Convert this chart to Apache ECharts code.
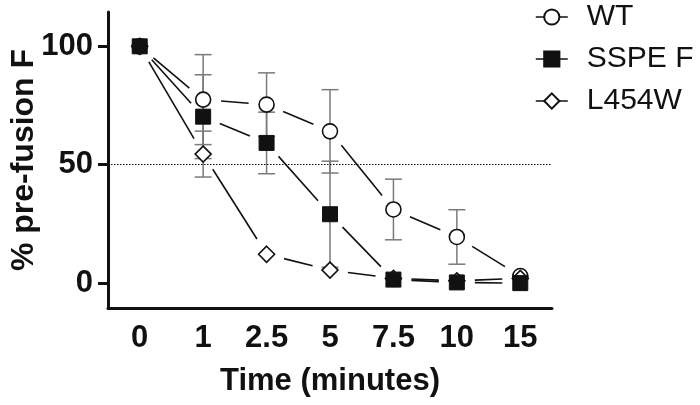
<!DOCTYPE html>
<html><head><meta charset="utf-8">
<script src="https://cdn.jsdelivr.net/npm/echarts@6/dist/echarts.min.js"></script>
<style>html,body{margin:0;padding:0;background:#fff}#c{width:700px;height:405px}</style>
</head><body><div id="c"></div>
<script>
const categories = ['0','1','2.5','5','7.5','10','15'];
const wtValues = [100, 77.5, 75.4, 64.1, 31.1, 19.5, 3];
const wtErrors = [0, 19, 13.4, 17.6, 12.8, 11.5, 0];
const ssValues = [100, 70.3, 59.2, 29.1, 1.5, 0.3, 0];
const ssErrors = [0, 17.7, 13, 22.4, 0, 0, 0];
const lwValues = [100, 54.5, 12.2, 5.5, 2, 1, 2];
const lwErrors = [0, 9.7, 0, 0, 0, 0, 0];
const yTicks = [0, 50, 100];
const refLine = 50;

const FONT = "'Liberation Sans', Arial, sans-serif";

function segData(vals){ return vals.slice(0,-1).map((v,i)=>[i, v, i+1, vals[i+1]]); }
function segRender(params, api){
  const p1 = api.coord([api.value(0), api.value(1)]);
  const p2 = api.coord([api.value(2), api.value(3)]);
  const dx = p2[0]-p1[0], dy = p2[1]-p1[1];
  const L = Math.hypot(dx, dy);
  const g = 18;
  if (L < 2*g + 2) return;
  const ux = dx/L, uy = dy/L;
  return {type:'line', shape:{x1:p1[0]+ux*g, y1:p1[1]+uy*g, x2:p2[0]-ux*g, y2:p2[1]-uy*g},
          style:{stroke:'#111', lineWidth:1.6}};
}
function errData(vals, errs){ return vals.map((v,i)=>[i, v, errs[i]]).filter(d=>d[2]>0); }
function errRender(params, api){
  const x = api.value(0), v = api.value(1), e = api.value(2);
  const t = api.coord([x, v+e]), b = api.coord([x, v-e]);
  const w = 8.5;
  const st = {stroke:'#7a7a7a', lineWidth:1.5};
  return {type:'group', children:[
    {type:'line', shape:{x1:t[0], y1:t[1], x2:b[0], y2:b[1]}, style:st},
    {type:'line', shape:{x1:t[0]-w, y1:t[1], x2:t[0]+w, y2:t[1]}, style:st},
    {type:'line', shape:{x1:b[0]-w, y1:b[1], x2:b[0]+w, y2:b[1]}, style:st}
  ]};
}
function segSeries(name, vals){
  return {type:'custom', name:name, data:segData(vals), renderItem:segRender, z:2, silent:true,
          encode:{x:0, y:1}};
}
function errSeries(name, vals, errs){
  return {type:'custom', name:name, data:errData(vals, errs), renderItem:errRender, z:1, silent:true,
          encode:{x:0, y:1}};
}

const chart = echarts.init(document.getElementById('c'));
chart.setOption({
  animation:false,
  backgroundColor:'#fff',
  grid:{left:108, right:148, top:12, bottom:97, containLabel:false, outerBoundsMode:'none'},
  legend:{
    orient:'vertical', left:535, top:2, padding:0,
    data:['WT','SSPE F','L454W'],
    itemWidth:32, itemHeight:19, itemGap:12,
    lineStyle:{color:'#111', width:1.6, opacity:1},
    textStyle:{fontFamily:FONT, fontSize:30, color:'#111', lineHeight:30, padding:[0,0,0,14]}
  },
  xAxis:{
    type:'category', data:categories, boundaryGap:true,
    axisLine:{onZero:false, lineStyle:{color:'#111', width:3}},
    axisTick:{alignWithLabel:true, length:10, lineStyle:{width:3, color:'#111'}},
    axisLabel:{fontFamily:FONT, fontSize:31, fontWeight:'bold', color:'#111', margin:15},
    name:'Time (minutes)', nameLocation:'middle', nameGap:58, nameMoveOverlap:false,
    nameTextStyle:{fontFamily:FONT, fontSize:31, fontWeight:'bold', color:'#111'}
  },
  yAxis:{
    type:'value', min:-10.5, max:114.5,
    splitLine:{show:false},
    axisLine:{show:true, onZero:false, lineStyle:{color:'#111', width:3}},
    axisTick:{show:true, length:10, customValues:yTicks, lineStyle:{width:3, color:'#111'}},
    axisLabel:{customValues:yTicks, fontFamily:FONT, fontSize:31, fontWeight:'bold', color:'#111', margin:15},
    name:'% pre-fusion F', nameLocation:'middle', nameGap:68, nameRotate:90, nameMoveOverlap:false,
    nameTextStyle:{fontFamily:FONT, fontSize:32, fontWeight:'bold', color:'#111'}
  },
  series:[
    errSeries('errWT', wtValues, wtErrors),
    errSeries('errSS', ssValues, ssErrors),
    errSeries('errLW', lwValues, lwErrors),
    segSeries('segWT', wtValues),
    segSeries('segSS', ssValues),
    segSeries('segLW', lwValues),
    {type:'line', name:'WT', data:wtValues, symbol:'circle', symbolSize:15, z:3,
     lineStyle:{opacity:0}, itemStyle:{color:'#fff', borderColor:'#111', borderWidth:1.6},
     markLine:{silent:true, symbol:'none', label:{show:false},
       lineStyle:{color:'#111', width:1, type:[1.5,1.5]}, data:[{yAxis:refLine}]}},
    {type:'line', name:'L454W', data:lwValues, symbol:'diamond', symbolSize:[16,16], z:4,
     lineStyle:{opacity:0}, itemStyle:{color:'#fff', borderColor:'#111', borderWidth:1.6}},
    {type:'line', name:'SSPE F', data:ssValues, symbol:'rect', symbolSize:15, z:5,
     lineStyle:{opacity:0}, itemStyle:{color:'#111', borderColor:'#111', borderWidth:1}}
  ]
});
</script></body></html>
